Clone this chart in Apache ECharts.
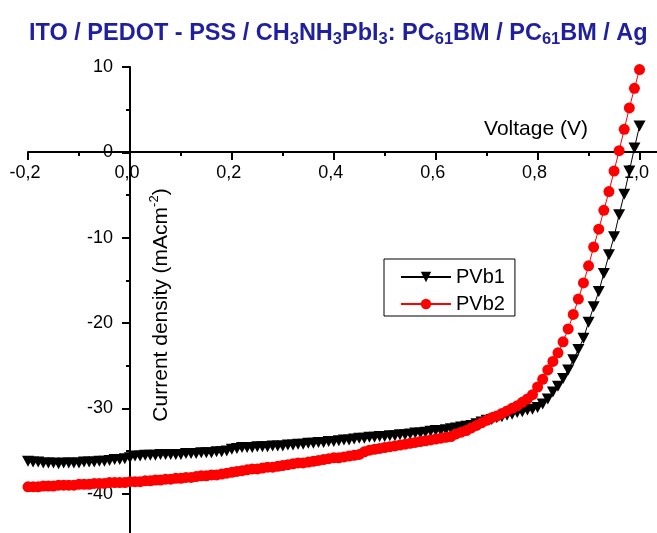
<!DOCTYPE html>
<html><head><meta charset="utf-8">
<script src="https://cdn.jsdelivr.net/npm/echarts@6/dist/echarts.min.js"></script>
<style>html,body{margin:0;padding:0;background:#fff}#c{width:657px;height:533px}</style>
</head><body><div id="c"></div>
<script>
// Voltage (V)
const voltage = [
 -0.20,-0.19,-0.18,-0.17,-0.16,-0.15,-0.14,-0.13,-0.12,-0.11,
 -0.10,-0.09,-0.08,-0.07,-0.06,-0.05,-0.04,-0.03,-0.02,-0.01,
 0.00,0.01,0.02,0.03,0.04,0.05,0.06,0.07,0.08,0.09,
 0.10,0.11,0.12,0.13,0.14,0.15,0.16,0.17,0.18,0.19,
 0.20,0.21,0.22,0.23,0.24,0.25,0.26,0.27,0.28,0.29,
 0.30,0.31,0.32,0.33,0.34,0.35,0.36,0.37,0.38,0.39,
 0.40,0.41,0.42,0.43,0.44,0.45,0.46,0.47,0.48,0.49,
 0.50,0.51,0.52,0.53,0.54,0.55,0.56,0.57,0.58,0.59,
 0.60,0.61,0.62,0.63,0.64,0.65,0.66,0.67,0.68,0.69,
 0.70,0.71,0.72,0.73,0.74,0.75,0.76,0.77,0.78,0.79,
 0.80,0.81,0.82,0.83,0.84,0.85,0.86,0.87,0.88,0.89,
 0.90,0.91,0.92,0.93,0.94,0.95,0.96,0.97,0.98,0.99,
 1.00
];
// Current density (mA/cm2), PVb1
const pvb1 = [
 -36.2,-36.3,-36.3,-36.4,-36.4,-36.4,-36.5,-36.4,-36.4,-36.4,
 -36.4,-36.3,-36.3,-36.3,-36.2,-36.2,-36.1,-36.0,-36.0,-35.9,
 -35.8,-35.6,-35.6,-35.5,-35.5,-35.5,-35.4,-35.4,-35.4,-35.4,
 -35.4,-35.3,-35.3,-35.3,-35.2,-35.2,-35.2,-35.1,-35.1,-35.0,
 -34.8,-34.7,-34.6,-34.6,-34.6,-34.5,-34.5,-34.5,-34.4,-34.4,
 -34.4,-34.3,-34.3,-34.2,-34.2,-34.1,-34.1,-34.0,-34.0,-33.9,
 -33.9,-33.8,-33.7,-33.7,-33.6,-33.5,-33.5,-33.4,-33.4,-33.3,
 -33.3,-33.2,-33.2,-33.1,-33.1,-33.0,-32.9,-32.9,-32.8,-32.7,
 -32.6,-32.6,-32.5,-32.4,-32.3,-32.2,-32.1,-32.0,-31.8,-31.6,
 -31.4,-31.3,-31.1,-31.0,-30.8,-30.7,-30.5,-30.4,-30.2,-30.1,
 -29.9,-29.5,-28.9,-28.1,-27.4,-26.5,-25.5,-24.3,-23.1,-21.8,
 -19.9,-18.1,-16.3,-14.2,-12.0,-9.9,-7.3,-4.9,-2.2,0.5,
 3.1
];
// Current density (mA/cm2), PVb2
const pvb2 = [
 -39.2,-39.2,-39.2,-39.1,-39.1,-39.1,-39.0,-39.0,-39.0,-39.0,
 -38.9,-38.9,-38.9,-38.8,-38.8,-38.8,-38.7,-38.7,-38.7,-38.7,
 -38.6,-38.6,-38.6,-38.5,-38.5,-38.4,-38.4,-38.3,-38.3,-38.2,
 -38.2,-38.1,-38.1,-38.0,-37.9,-37.9,-37.8,-37.8,-37.7,-37.6,
 -37.5,-37.4,-37.3,-37.2,-37.1,-37.1,-37.0,-36.9,-36.9,-36.8,
 -36.7,-36.6,-36.5,-36.4,-36.4,-36.3,-36.2,-36.1,-36.0,-35.9,
 -35.8,-35.8,-35.7,-35.6,-35.5,-35.4,-35.1,-34.9,-34.8,-34.7,
 -34.6,-34.5,-34.4,-34.3,-34.2,-34.1,-34.0,-33.9,-33.8,-33.7,
 -33.6,-33.5,-33.4,-33.3,-33.0,-32.8,-32.6,-32.3,-32.0,-31.7,
 -31.4,-31.1,-30.9,-30.6,-30.3,-30.0,-29.7,-29.3,-28.9,-28.4,
 -27.5,-26.6,-25.5,-24.5,-23.5,-22.2,-20.7,-19.0,-17.2,-15.3,
 -13.3,-11.1,-9.0,-6.8,-4.6,-2.2,0.2,2.7,5.2,7.5,
 9.7
];
const seriesNames = ['PVb1', 'PVb2'];
const xTickValues = [-0.2, 0, 0.2, 0.4, 0.6, 0.8, 1.0];
const yTickValues = [-40, -30, -20, -10, 0, 10];

const FONT = 'Liberation Sans, Arial, sans-serif';
const chart = echarts.init(document.getElementById('c'), null, {renderer: 'canvas'});
const titleColor = '#1f1f9f';

chart.setOption({
  animation: false,
  backgroundColor: '#fff',
  title: {
    left: 24, top: 17,
    text: '{n|ITO / PEDOT - PSS / CH}{s|3}{n|NH}{s|3}{n|PbI}{s|3}{n|: PC}{s|61}{n|BM / PC}{s|61}{n|BM / Ag}',
    textStyle: {
      fontFamily: FONT, fontWeight: 'bold', fontSize: 23.5, color: titleColor,
      rich: {
        n: {fontFamily: FONT, fontWeight: 'bold', fontSize: 23.5, color: titleColor, lineHeight: 26, verticalAlign: 'top'},
        s: {fontFamily: FONT, fontWeight: 'bold', fontSize: 16.5, color: titleColor, lineHeight: 18, padding: [15, 0, 0, 0], verticalAlign: 'bottom'}
      }
    }
  },
  legend: {
    data: seriesNames,
    orient: 'vertical',
    left: 384, top: 259,
    borderColor: '#000', borderWidth: 1,
    padding: [8, 10, 2, 16],
    itemWidth: 50, itemHeight: 13, itemGap: 7,
    textStyle: {fontFamily: FONT, fontSize: 20, color: '#000'}
  },
  grid: {left: 28, right: -8, top: 67, bottom: -46, containLabel: false, outerBoundsMode: 'none'},
  xAxis: {
    type: 'value', min: -0.2, max: 1.05, interval: 0.2,
    position: 'bottom', offset: -427,
    name: 'Voltage (V)', nameLocation: 'end', nameGap: -129, nameMoveOverlap: false,
    nameTextStyle: {fontFamily: FONT, fontSize: 21, color: '#000', align: 'center', verticalAlign: 'bottom', padding: [0, 0, 12, 0]},
    axisLine: {onZero: false, lineStyle: {color: '#000', width: 2}},
    axisTick: {show: true, inside: false, length: 8, lineStyle: {color: '#000', width: 2}},
    minorTick: {show: true, splitNumber: 2, length: 4, lineStyle: {color: '#000', width: 2}},
    splitLine: {show: false},
    axisLabel: {
      fontFamily: FONT, fontSize: 18, color: '#000', margin: 12, padding: [0, 6, 0, 0],
      showMaxLabel: false, hideOverlap: false,
      formatter: function (v) {
        const hit = xTickValues.find(t => Math.abs(t - v) < 1e-6);
        return hit === undefined ? '' : hit.toFixed(1).replace('.', ',');
      }
    }
  },
  yAxis: {
    type: 'value', min: -50, max: 10, interval: 10,
    position: 'left', offset: -102,
    name: '{n|Current density (mAcm}{p|-2}{n|)}',
    nameLocation: 'middle', nameRotate: 90, nameGap: -30, nameMoveOverlap: false,
    nameTextStyle: {
      fontFamily: FONT, fontSize: 21, color: '#000', verticalAlign: 'middle', padding: [0, 0, 0, 36],
      rich: {
        n: {fontFamily: FONT, fontSize: 21, color: '#000', lineHeight: 24, verticalAlign: 'bottom'},
        p: {fontFamily: FONT, fontSize: 13, color: '#000', lineHeight: 14, padding: [0, 0, 16, 0], verticalAlign: 'top'}
      }
    },
    axisLine: {onZero: false, lineStyle: {color: '#000', width: 2}},
    axisTick: {show: true, inside: false, length: 8, lineStyle: {color: '#000', width: 2}},
    minorTick: {show: true, splitNumber: 2, length: 4, lineStyle: {color: '#000', width: 2}},
    splitLine: {show: false},
    axisLabel: {
      fontFamily: FONT, fontSize: 18, color: '#000', margin: 17, padding: [9, 0, 0, 0], hideOverlap: false,
      formatter: function (v) {
        return yTickValues.indexOf(v) >= 0 ? String(v) : '';
      }
    }
  },
  series: [
    {
      name: seriesNames[0], type: 'line',
      data: voltage.map((v, i) => [v, pvb1[i]]),
      symbol: 'triangle', symbolRotate: 180, symbolSize: [12, 11], showAllSymbol: true,
      lineStyle: {color: '#000', width: 1},
      itemStyle: {color: '#000'}
    },
    {
      name: seriesNames[1], type: 'line',
      data: voltage.map((v, i) => [v, pvb2[i]]),
      symbol: 'circle', symbolSize: 11, showAllSymbol: true,
      lineStyle: {color: '#ff0000', width: 1},
      itemStyle: {color: '#ff0000'}
    }
  ]
});
</script></body></html>
